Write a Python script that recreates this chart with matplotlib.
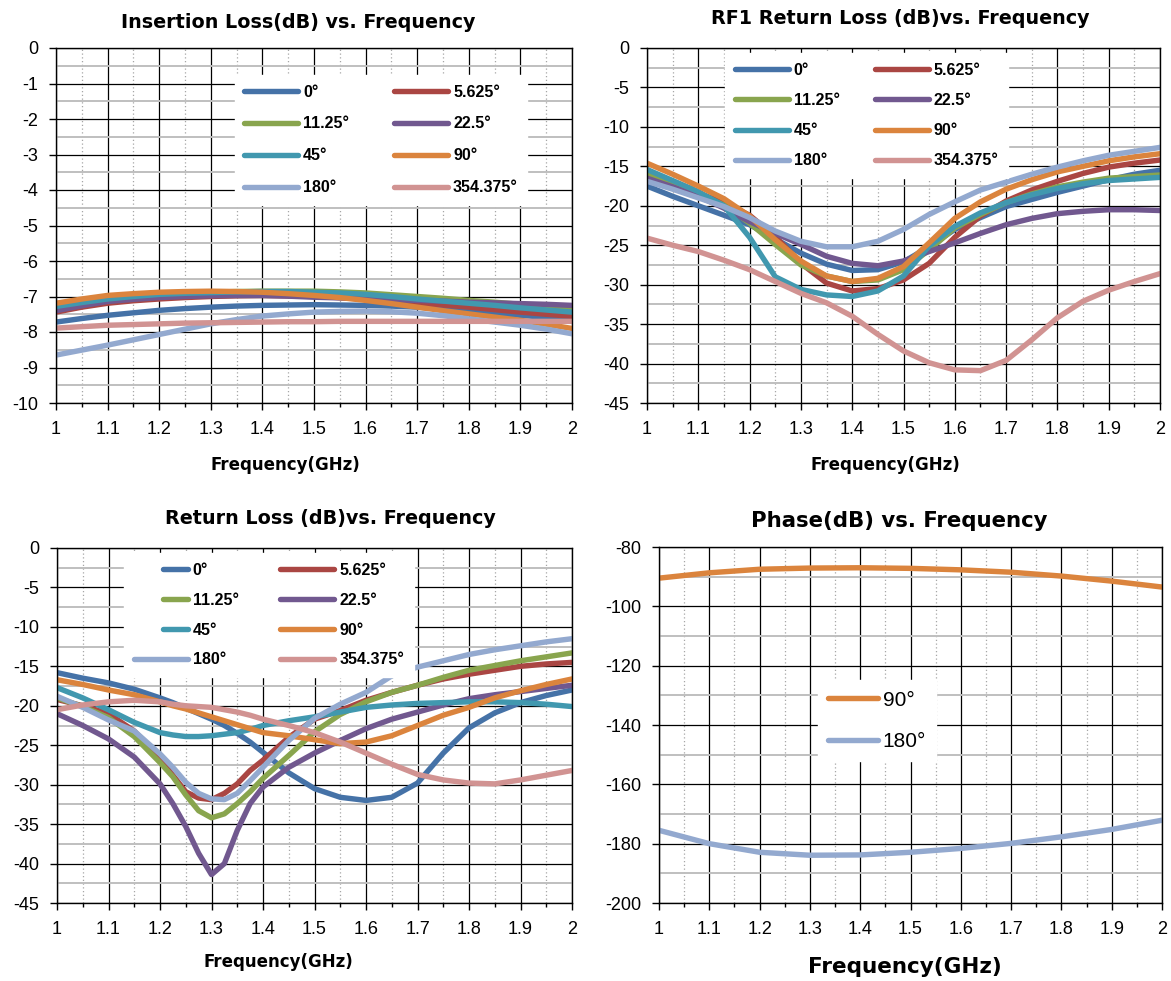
import numpy as np
import matplotlib.pyplot as plt
from matplotlib.ticker import MultipleLocator
from matplotlib.legend_handler import HandlerLine2D

plt.rcParams['font.family'] = ['Liberation Sans', 'DejaVu Sans']
plt.rcParams['axes.unicode_minus'] = False

W, H = 1171, 981

labels = ['0°', '5.625°', '11.25°', '22.5°', '45°', '90°', '180°', '354.375°']
colors = ['#4572A7', '#AA4643', '#89A54E', '#71588F', '#4198AF', '#DB843D', '#93A9CF', '#D19392']

# Insertion loss (dB), 0.05 GHz steps
freq = [1.0, 1.05, 1.1, 1.15, 1.2, 1.25, 1.3, 1.35, 1.4, 1.45, 1.5,
        1.55, 1.6, 1.65, 1.7, 1.75, 1.8, 1.85, 1.9, 1.95, 2.0]
il_0 = [-7.72, -7.62, -7.53, -7.46, -7.39, -7.34, -7.30, -7.27, -7.25, -7.24, -7.23,
        -7.24, -7.25, -7.27, -7.30, -7.35, -7.41, -7.47, -7.53, -7.59, -7.66]
il_5 = [-7.44, -7.30, -7.19, -7.12, -7.07, -7.03, -7.00, -6.98, -6.97, -6.98, -7.00,
        -7.03, -7.07, -7.13, -7.19, -7.24, -7.30, -7.37, -7.44, -7.50, -7.56]
il_11 = [-7.22, -7.12, -7.03, -6.97, -6.93, -6.90, -6.88, -6.86, -6.85, -6.85, -6.85,
         -6.87, -6.90, -6.95, -7.00, -7.05, -7.11, -7.16, -7.22, -7.28, -7.35]
il_22 = [-7.40, -7.26, -7.14, -7.08, -7.03, -7.00, -6.98, -6.97, -6.97, -6.99, -7.02,
         -7.04, -7.07, -7.09, -7.11, -7.13, -7.16, -7.18, -7.20, -7.22, -7.25]
il_45 = [-7.28, -7.17, -7.07, -7.00, -6.94, -6.91, -6.89, -6.87, -6.86, -6.86, -6.88,
         -6.90, -6.94, -7.00, -7.07, -7.13, -7.19, -7.25, -7.32, -7.38, -7.44]
il_90 = [-7.19, -7.07, -6.97, -6.92, -6.88, -6.86, -6.85, -6.86, -6.88, -6.92, -6.97,
         -7.03, -7.11, -7.20, -7.30, -7.40, -7.49, -7.58, -7.67, -7.78, -7.90]
il_180 = [-8.65, -8.51, -8.37, -8.22, -8.07, -7.92, -7.77, -7.65, -7.55, -7.49, -7.44,
          -7.42, -7.41, -7.43, -7.47, -7.54, -7.63, -7.72, -7.81, -7.92, -8.05]
il_354 = [-7.89, -7.85, -7.81, -7.79, -7.77, -7.75, -7.74, -7.73, -7.72, -7.71, -7.71,
          -7.70, -7.70, -7.70, -7.70, -7.70, -7.70, -7.70, -7.70, -7.70, -7.70]

# RF1 return loss (dB)
rf1_0 = [-17.5, -18.8, -20.0, -21.2, -22.4, -24.2, -26.0, -27.4, -28.2, -28.1, -27.1,
         -25.2, -23.0, -21.5, -20.1, -19.2, -18.3, -17.5, -16.7, -16.0, -15.5]
rf1_5 = [-16.3, -17.3, -18.4, -19.6, -21.2, -23.9, -27.3, -29.8, -30.8, -30.5, -29.4,
         -27.3, -24.0, -21.3, -19.4, -18.0, -16.9, -15.9, -15.1, -14.6, -14.2]
rf1_11 = [-16.0, -17.2, -18.5, -19.9, -22.2, -24.9, -27.5, -28.9, -29.6, -29.4, -28.1,
          -25.6, -22.8, -21.1, -19.6, -18.5, -17.6, -17.0, -16.5, -16.3, -16.1]
rf1_22 = [-16.5, -17.6, -18.8, -20.3, -22.0, -23.5, -24.9, -26.4, -27.3, -27.6, -27.0,
          -25.8, -24.7, -23.5, -22.4, -21.6, -21.0, -20.7, -20.5, -20.5, -20.6]
rf1_45 = [-15.4, -16.8, -18.2, -20.0, -24.0, -29.0, -30.6, -31.3, -31.5, -30.8, -28.9,
          -25.1, -22.6, -20.9, -19.6, -18.6, -17.8, -17.2, -16.8, -16.6, -16.4]
rf1_90 = [-14.6, -16.0, -17.5, -19.1, -21.3, -24.3, -27.0, -28.9, -29.6, -29.2, -27.7,
          -24.7, -21.6, -19.5, -17.9, -16.7, -15.7, -15.0, -14.3, -13.8, -13.4]
rf1_180 = [-16.9, -17.9, -19.0, -20.1, -21.5, -23.2, -24.5, -25.2, -25.2, -24.5, -23.0,
           -21.1, -19.5, -18.0, -17.0, -16.0, -15.1, -14.3, -13.6, -13.1, -12.6]
rf1_354 = [-24.1, -25.0, -25.8, -26.9, -28.1, -29.6, -31.1, -32.3, -34.0, -36.3, -38.4,
           -39.9, -40.8, -40.9, -39.6, -37.0, -34.2, -32.1, -30.7, -29.6, -28.6]

# Return loss (dB), finer steps around the 1.3 GHz dip
freq_rl = [1.0, 1.05, 1.1, 1.15, 1.2, 1.225, 1.25, 1.275, 1.3, 1.325, 1.35, 1.375, 1.4,
           1.45, 1.5, 1.55, 1.6, 1.65, 1.7, 1.75, 1.8, 1.85, 1.9, 1.95, 2.0]
rl_0 = [-15.8, -16.5, -17.1, -17.9, -19.0, -19.6, -20.3, -21.0, -21.7, -22.5, -23.5, -24.6, -25.9,
        -28.5, -30.5, -31.6, -32.0, -31.6, -29.8, -26.0, -22.8, -20.9, -19.6, -18.7, -18.0]
rl_5 = [-19.2, -20.0, -21.0, -23.2, -26.6, -28.8, -30.9, -31.7, -31.9, -31.1, -29.9, -28.2, -26.9,
        -24.0, -21.7, -20.6, -19.3, -18.3, -17.4, -16.6, -16.0, -15.5, -15.0, -14.7, -14.5]
rl_11 = [-19.0, -20.1, -21.5, -23.9, -27.2, -29.0, -31.3, -33.3, -34.2, -33.7, -32.4, -30.9, -29.2,
         -26.3, -23.3, -21.1, -19.5, -18.3, -17.4, -16.4, -15.5, -14.9, -14.3, -13.8, -13.3]
rl_22 = [-21.0, -22.5, -24.2, -26.5, -29.9, -32.4, -35.3, -38.7, -41.4, -40.0, -35.8, -32.4, -30.3,
         -27.8, -26.0, -24.4, -22.9, -21.7, -20.8, -19.9, -19.1, -18.6, -18.2, -17.8, -17.4]
rl_45 = [-17.7, -19.0, -20.5, -22.1, -23.4, -23.7, -23.9, -23.9, -23.8, -23.6, -23.4, -23.0, -22.5,
         -21.9, -21.4, -20.8, -20.2, -19.9, -19.7, -19.6, -19.5, -19.5, -19.6, -19.8, -20.1]
rl_90 = [-16.7, -17.3, -18.0, -18.6, -19.5, -20.0, -20.4, -20.9, -21.4, -21.9, -22.4, -22.9, -23.4,
         -23.8, -24.3, -24.8, -24.6, -23.8, -22.5, -21.2, -20.2, -19.0, -18.1, -17.3, -16.6]
rl_180 = [-18.8, -20.2, -21.8, -23.2, -26.1, -27.8, -29.7, -31.1, -31.8, -31.9, -31.1, -29.5, -27.8,
          -24.4, -21.6, -19.8, -18.3, -16.2, -15.1, -14.3, -13.5, -12.9, -12.4, -11.9, -11.5]
rl_354 = [-20.5, -19.9, -19.5, -19.3, -19.5, -19.8, -20.0, -20.1, -20.2, -20.5, -20.8, -21.2, -21.7,
          -22.5, -23.4, -24.6, -26.0, -27.4, -28.7, -29.4, -29.8, -29.9, -29.4, -28.8, -28.2]

# Phase (deg)
freq_ph = [1.0, 1.1, 1.2, 1.3, 1.4, 1.5, 1.6, 1.7, 1.8, 1.9, 2.0]
ph_90 = [-90.5, -88.7, -87.5, -87.1, -87.0, -87.2, -87.7, -88.5, -89.8, -91.5, -93.5]
ph_180 = [-175.5, -180.0, -182.9, -183.9, -183.8, -182.9, -181.6, -179.9, -177.7, -175.2, -172.1]


class ShortHandler(HandlerLine2D):
    # short legend stub like the excel one
    def create_artists(self, legend, orig_handle, xdescent, ydescent, width, height, fontsize, trans):
        return super().create_artists(legend, orig_handle, xdescent - width*0.55, ydescent,
                                      width*0.45, height, fontsize, trans)


def px_axes(left, top, right, bottom):
    return [left/W, 1 - bottom/H, (right-left)/W, (bottom-top)/H]


def style_axes(ax, ymin, ymax, ymajor):
    ax.set_xlim(1, 2)
    ax.set_ylim(ymin, ymax)
    ax.xaxis.set_major_locator(MultipleLocator(0.1))
    ax.xaxis.set_minor_locator(MultipleLocator(0.05))
    ax.yaxis.set_major_locator(MultipleLocator(ymajor))
    ax.yaxis.set_minor_locator(MultipleLocator(ymajor/2))
    ax.set_axisbelow(True)
    ax.grid(which='major', color='black', lw=0.9)
    ax.grid(which='minor', axis='y', color='#BFBFBF', lw=1.4)
    ax.grid(which='minor', axis='x', color='#A6A6A6', lw=0.9, ls=(0, (1, 2)))
    ax.tick_params(which='major', direction='out', length=5, width=1, labelsize=13, pad=8)
    ax.tick_params(which='minor', axis='x', direction='out', length=3, width=1)
    ax.tick_params(which='minor', axis='y', length=0)
    for s in ax.spines.values():
        s.set_color('black')
        s.set_linewidth(1)
    ax.xaxis.set_major_formatter(plt.FuncFormatter(lambda v, p: ('%.1f' % v).rstrip('0').rstrip('.')))
    ax.yaxis.set_major_formatter(plt.FuncFormatter(lambda v, p: '%d' % round(v)))


fig = plt.figure(figsize=(W/100, H/100), dpi=100)

order = [0, 2, 4, 6, 1, 3, 5, 7]
leg_font = {'family': 'Liberation Sans', 'weight': 'bold', 'size': 11.5}
leg_kw = dict(ncol=2, loc='upper left', prop=leg_font, frameon=True, fancybox=False,
              framealpha=1, edgecolor='white', handlelength=3.4, handletextpad=0.3,
              borderpad=0.6, borderaxespad=0)

# Insertion loss
ax1 = fig.add_axes(px_axes(56, 48, 572, 403))
series = [il_0, il_5, il_11, il_22, il_45, il_90, il_180, il_354]
lines = []
for i in range(len(series)):
    l, = ax1.plot(freq, series[i], color=colors[i], lw=3.9, label=labels[i], solid_capstyle='round')
    lines.append(l)
style_axes(ax1, -10, 0, 1)
ax1.legend([lines[k] for k in order], [labels[k] for k in order],
           bbox_to_anchor=(0.346, 0.924), columnspacing=2.8, labelspacing=1.06, **leg_kw)

# RF1 return loss
ax2 = fig.add_axes(px_axes(647, 48, 1160, 403))
series = [rf1_0, rf1_5, rf1_11, rf1_22, rf1_45, rf1_90, rf1_180, rf1_354]
lines = []
for i in range(len(series)):
    l, = ax2.plot(freq, series[i], color=colors[i], lw=3.9, label=labels[i], solid_capstyle='round')
    lines.append(l)
style_axes(ax2, -45, 0, 5)
ax2.legend([lines[k] for k in order], [labels[k] for k in order],
           bbox_to_anchor=(0.152, 0.985), columnspacing=2.2, labelspacing=0.95, **leg_kw)

# Return loss
ax3 = fig.add_axes(px_axes(57, 548, 572, 903))
series = [rl_0, rl_5, rl_11, rl_22, rl_45, rl_90, rl_180, rl_354]
lines = []
for i in range(len(series)):
    l, = ax3.plot(freq_rl, series[i], color=colors[i], lw=3.9, label=labels[i], solid_capstyle='round')
    lines.append(l)
style_axes(ax3, -45, 0, 5)
short = ShortHandler()
ax3.legend([lines[k] for k in order], [labels[k] for k in order],
           bbox_to_anchor=(0.13, 0.985), columnspacing=2.6, labelspacing=0.93,
           handler_map={lines[0]: short, lines[2]: short, lines[4]: short}, **leg_kw)

# Phase
ax4 = fig.add_axes(px_axes(659, 547, 1162, 903))
l90, = ax4.plot(freq_ph, ph_90, color=colors[5], lw=3.9, solid_capstyle='round')
l180, = ax4.plot(freq_ph, ph_180, color=colors[6], lw=3.9, solid_capstyle='round')
style_axes(ax4, -200, -80, 20)
ax4.legend([l90, l180], ['90°', '180°'], loc='upper left', bbox_to_anchor=(0.316, 0.626),
           prop={'family': 'Liberation Sans', 'size': 15}, frameon=True, fancybox=False,
           framealpha=1, edgecolor='white', handlelength=2.4, handletextpad=0.2,
           labelspacing=1.08, borderpad=0.5, borderaxespad=0)

# titles and axis labels placed like the original
tfont = {'family': 'DejaVu Sans', 'weight': 'bold'}
fig.text(298/W, 1 - 22/H, 'Insertion Loss(dB) vs. Frequency', ha='center', va='center', size=13.8, fontdict=tfont)
fig.text(900/W, 1 - 19/H, 'RF1 Return Loss (dB)vs. Frequency', ha='center', va='center', size=13.8, fontdict=tfont)
fig.text(330/W, 1 - 519/H, 'Return Loss (dB)vs. Frequency', ha='center', va='center', size=13.8, fontdict=tfont)
fig.text(899/W, 1 - 521/H, 'Phase(dB) vs. Frequency', ha='center', va='center', size=15.3, fontdict=tfont)
fig.text(285/W, 1 - 465/H, 'Frequency(GHz)', ha='center', va='center', size=12, fontdict=tfont)
fig.text(885/W, 1 - 465/H, 'Frequency(GHz)', ha='center', va='center', size=12, fontdict=tfont)
fig.text(278/W, 1 - 962/H, 'Frequency(GHz)', ha='center', va='center', size=12, fontdict=tfont)
fig.text(905/W, 1 - 967/H, 'Frequency(GHz)', ha='center', va='center', size=15.5, fontdict=tfont)

fig.savefig('out.png', dpi=100)
